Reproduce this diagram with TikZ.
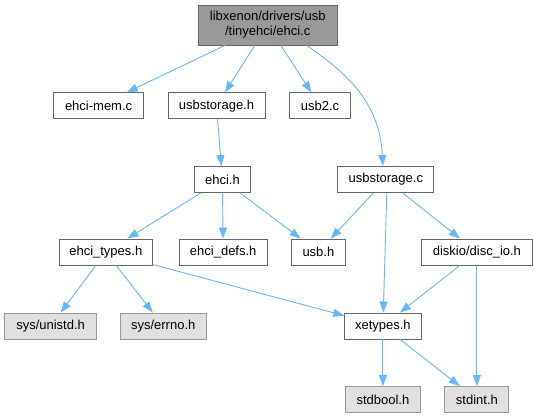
\documentclass[tikz,border=0pt]{standalone}
\usepackage{fontspec}
\setmainfont{Liberation Sans}
\usetikzlibrary{arrows.meta}
\definecolor{edgeblue}{RGB}{99,184,255}
\definecolor{rootfill}{RGB}{153,153,153}
\definecolor{boxline}{RGB}{102,102,102}
\definecolor{extfill}{RGB}{224,224,224}
\definecolor{extline}{RGB}{153,153,153}

\begin{document}
\begin{tikzpicture}[x=1pt, y=-1pt,
  file/.style={draw=boxline, fill=white, line width=0.9pt, minimum height=26pt,
    inner sep=0pt, font=\fontsize{13}{15}\selectfont},
  rootfile/.style={file, fill=rootfill, minimum height=40pt, align=center},
  extfile/.style={file, draw=extline, fill=extfill},
  dep/.style={edgeblue, line width=0.9pt, -{Triangle[length=11pt,width=8pt]}}]
  \useasboundingbox (0,0) rectangle (535,417);
  % Root file
  \node[rootfile, minimum width=139pt] (root) at (267.7,25)
    {libxenon/drivers/usb\\/tinyehci/ehci.c};
  % First level
  \node[file, minimum width=89.5pt] (ehcimem) at (98.6,105.8) {ehci-mem.c};
  \node[file, minimum width=97pt] (usbsth) at (216.5,105.8) {usbstorage.h};
  \node[file, minimum width=60.7pt] (usbtwo) at (320,105.8) {usb2.c};
  % Second level
  \node[file, minimum width=56.6pt] (ehcih) at (222.4,179.5) {ehci.h};
  \node[file, minimum width=96pt] (usbstc) at (385.8,179.5) {usbstorage.c};
  % Third level
  \node[file, minimum width=93pt] (ehcitypes) at (105.8,252) {ehci\_types.h};
  \node[file, minimum width=88.5pt] (ehcidefs) at (223.2,252) {ehci\_defs.h};
  \node[file, minimum width=53.2pt] (usbh) at (318.4,252) {usb.h};
  \node[file, minimum width=111.5pt] (discio) at (476.9,252) {diskio/disc\_io.h};
  % Fourth level
  \node[extfile, minimum width=91.6pt] (unistd) at (50.6,326) {sys/unistd.h};
  \node[extfile, minimum width=86.4pt] (errno) at (163.2,326) {sys/errno.h};
  \node[file, minimum width=76.5pt] (xetypes) at (382.9,326) {xetypes.h};
  % System headers
  \node[extfile, minimum width=75pt] (stdbool) at (382.9,399.5) {stdbool.h};
  \node[extfile, minimum width=64pt] (stdint) at (476.9,399.5) {stdint.h};

  % Includes
  \draw[dep] (root) -- (ehcimem);
  \draw[dep] (root) -- (usbsth);
  \draw[dep] (root) -- (usbtwo);
  \draw[dep] ([xshift=-31pt]root.south east)
    .. controls (350,75) and (380,105) .. ([xshift=-3pt]usbstc.north);
  \draw[dep] (usbsth) -- (ehcih);
  \draw[dep] (ehcih) -- (ehcitypes);
  \draw[dep] (ehcih) -- (ehcidefs);
  \draw[dep] (ehcih) -- (usbh);
  \draw[dep] (usbstc) -- (usbh);
  \draw[dep] ([xshift=1pt]usbstc.south) -- (xetypes);
  \draw[dep] (usbstc) -- (discio);
  \draw[dep] (ehcitypes) -- (unistd);
  \draw[dep] (ehcitypes) -- (errno);
  \draw[dep] (ehcitypes) -- (xetypes);
  \draw[dep] (discio) -- (xetypes);
  \draw[dep] (discio) -- (stdint);
  \draw[dep] (xetypes) -- (stdbool);
  \draw[dep] (xetypes) -- (stdint);
\end{tikzpicture}
\end{document}
